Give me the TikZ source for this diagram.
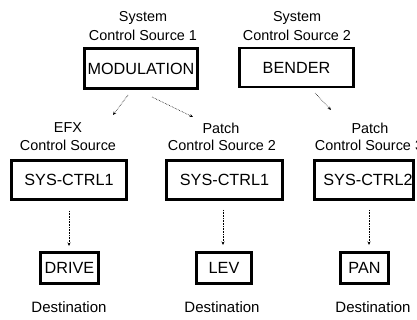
\documentclass[tikz,border=0pt]{standalone}
\usepackage{fontspec}
\setmainfont{Liberation Sans}
\usetikzlibrary{arrows.meta}
\begin{document}
\begin{tikzpicture}[x=1pt,y=-1pt,
  box/.style={draw=black,line width=2.6pt,inner sep=0pt,font=\fontsize{16.2}{18}\selectfont},
  lbl/.style={inner sep=0pt,font=\fontsize{14.4}{16}\selectfont},
  dst/.style={inner sep=0pt,font=\fontsize{15}{17}\selectfont},
  link/.style={line width=0.6pt,densely dotted,-{Stealth[length=3.5pt,width=3pt]}}]
\fill[white] (0,0) rectangle (417,320);
\useasboundingbox (0,0) rectangle (417,320);
% top labels
\node[lbl] (s1a) at (143,18) {System};
\node[lbl] (s1b) at (143,35) {Control Source 1};
\node[lbl] (s2a) at (297,18) {System};
\node[lbl] (s2b) at (297,35) {Control Source 2};
% top boxes
\node[box,minimum width=113pt,minimum height=40pt] (mod) at (141,68.5) {MODULATION};
\node[box,minimum width=114pt,minimum height=39pt] (bend) at (296.5,67.5) {BENDER};
% middle labels
\node[lbl] (e1a) at (68,128) {EFX};
\node[lbl] (e1b) at (68,145) {Control Source};
\node[lbl] (p2a) at (221,128) {Patch};
\node[lbl] (p2b) at (222,145) {Control Source 2};
\node[lbl] (p3a) at (370,128) {Patch};
\node[lbl] (p3b) at (369,145) {Control Source 3};
% middle boxes
\node[box,minimum width=115pt,minimum height=39pt] (c1) at (69,180) {SYS-CTRL1};
\node[box,minimum width=116pt,minimum height=39pt] (c2) at (224.5,180) {SYS-CTRL1};
\node[box,minimum width=99pt,minimum height=39pt] (c3) at (364,180) {\hspace*{8pt}SYS-CTRL2};
% destinations
\node[box,minimum width=58pt,minimum height=31pt] (d1) at (69.5,268) {DRIVE};
\node[box,minimum width=55pt,minimum height=31pt] (d2) at (224,268) {LEV};
\node[box,minimum width=48pt,minimum height=31pt] (d3) at (364.5,268) {PAN};
\node[dst] (t1) at (69,307) {Destination};
\node[dst] (t2) at (222,307) {Destination};
\node[dst] (t3) at (373,307) {Destination};
% connector ends
\coordinate (a1s) at (128,95);  \coordinate (a1e) at (113,115);
\coordinate (a2s) at (152,97);  \coordinate (a2e) at (193,117);
\coordinate (a3s) at (315,93);  \coordinate (a3e) at (331,110);
\coordinate (v1s) at (69,211);  \coordinate (v1e) at (69,246);
\coordinate (v2s) at (223,210); \coordinate (v2e) at (223,245);
\coordinate (v3s) at (369,210); \coordinate (v3e) at (369,245);
\draw[link] (a1s) -- (a1e);
\draw[link] (a2s) -- (a2e);
\draw[link] (a3s) -- (a3e);
\draw[link] (v1s) -- (v1e);
\draw[link] (v2s) -- (v2e);
\draw[link] (v3s) -- (v3e);
\end{tikzpicture}
\end{document}
